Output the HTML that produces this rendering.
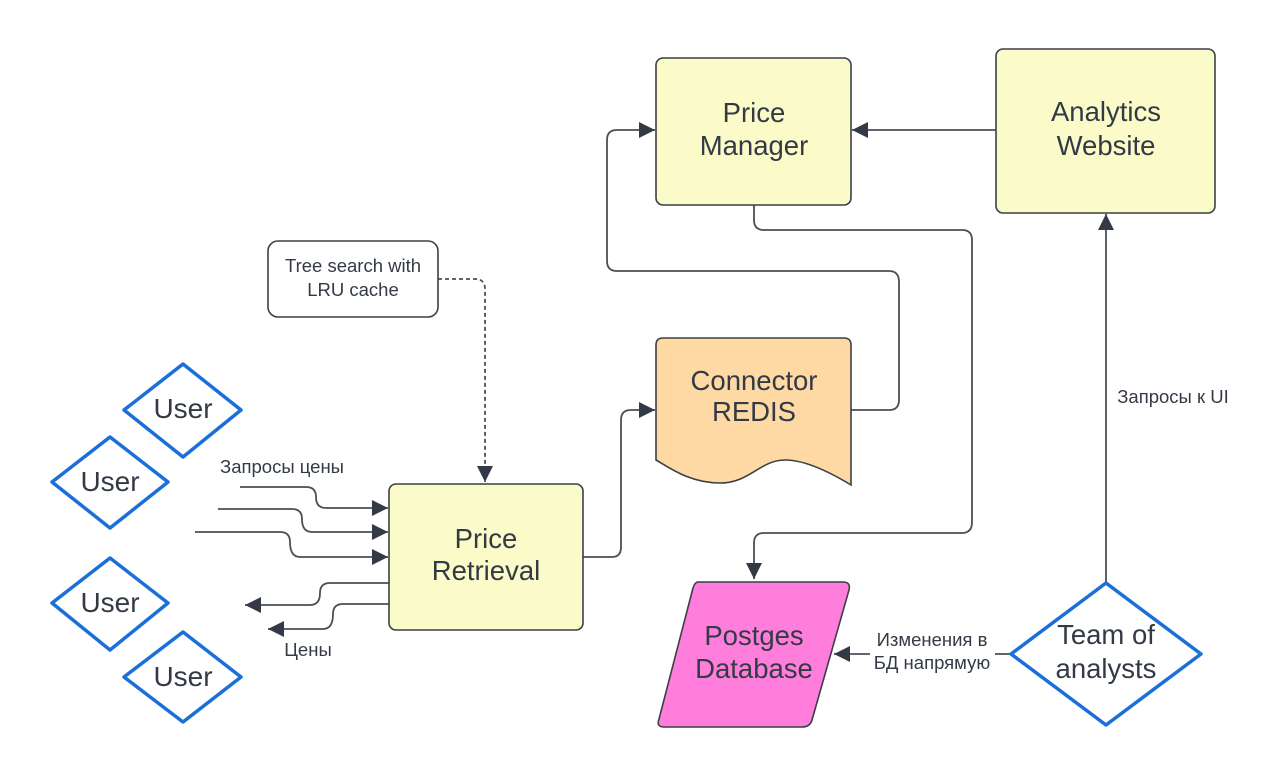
<!DOCTYPE html>
<html><head><meta charset="utf-8"><style>
html,body{margin:0;padding:0;background:#fff;}
svg{display:block}
text{font-family:"Liberation Sans",sans-serif;fill:#333a45}
</style></head><body>
<svg width="1280" height="776" viewBox="0 0 1280 776" xmlns="http://www.w3.org/2000/svg">
<defs>
<marker id="a" viewBox="0 0 10 10" refX="10" refY="5" markerWidth="16" markerHeight="16" markerUnits="userSpaceOnUse" orient="auto">
<path d="M0,0 L10,5 L0,10 z" fill="#333a45"/></marker>
</defs>
<g fill="none" stroke="#4b4f57" stroke-width="1.8">
<path d="M438,279 H475 Q485,279 485,289 V482" stroke-dasharray="4,3" marker-end="url(#a)"/>
<path d="M240,487 H306 Q316,487 316,497 Q316,508 326,508 H388" marker-end="url(#a)"/>
<path d="M218,509 H292 Q302,509 302,519 Q302,532 312,532 H388" marker-end="url(#a)"/>
<path d="M195,532 H280 Q290,532 290,542 Q290,557 300,557 H388" marker-end="url(#a)"/>
<path d="M389,583 H330 Q320,583 320,593 Q320,605 310,605 H245" marker-end="url(#a)"/>
<path d="M389,604 H343 Q333,604 333,614 Q333,629 323,629 H268" marker-end="url(#a)"/>
<path d="M583,557 H612 Q621,557 621,547 V420 Q621,410 631,410 H655" marker-end="url(#a)"/>
<path d="M851,410 H889 Q899,410 899,400 V282 Q899,271 889,271 H617 Q607,271 607,261 V140 Q607,130 617,130 H655" marker-end="url(#a)"/>
<path d="M754,205 V220 Q754,230 764,230 H962 Q972,230 972,240 V522 Q972,533 962,533 H764 Q754,533 754,543 V579" marker-end="url(#a)"/>
<path d="M996,130 H852" marker-end="url(#a)"/>
<path d="M1106,583 V214" marker-end="url(#a)"/>
<path d="M1011,654 H834" marker-end="url(#a)"/>
</g>
<rect x="870" y="626" width="125" height="50" fill="#fff"/>
<g stroke="#3b3f46" stroke-width="1.6">
<rect x="656" y="58" width="195" height="147" rx="7" fill="#fafbc8"/>
<rect x="996" y="49" width="219" height="164" rx="7" fill="#fafbc8"/>
<rect x="389" y="484" width="194" height="146" rx="7" fill="#fafbc8"/>
<rect x="268" y="241" width="170" height="76" rx="10" fill="#fff"/>
<path d="M663,338 H844 Q851,338 851,345 V485 Q810,460 785,460 C760,460 750,483 720,483 C690,483 670,468 656,460 V345 Q656,338 663,338 Z" fill="#fed9a3"/>
<path d="M698,582 H843 Q851,582 849,590 L812,720 Q810,727 802,727 H664 Q656,727 659,719 L693,588 Q695,582 698,582 Z" fill="#ff7edb"/>
</g>
<g fill="#fff" stroke="#1a6fd8" stroke-width="3.5" stroke-linejoin="round">
<path d="M183,364 L241,410 L183,457 L124,410 Z"/>
<path d="M110,437 L168,482 L110,528 L52,482 Z"/>
<path d="M110,558 L168,603 L110,650 L52,603 Z"/>
<path d="M183,632 L241,677 L183,722 L124,677 Z"/>
<path d="M1106,583 L1201,654 L1106,725 L1011,654 Z"/>
</g>
<g font-size="27.5" text-anchor="middle">
<text x="754" y="122">Price</text><text x="754" y="155">Manager</text>
<text x="1106" y="121">Analytics</text><text x="1106" y="155">Website</text>
<text x="486" y="548">Price</text><text x="486" y="580">Retrieval</text>
<text x="754" y="390">Connector</text><text x="754" y="421">REDIS</text>
<text x="754" y="645">Postges</text><text x="754" y="678">Database</text>
<text x="1106" y="644">Team of</text><text x="1106" y="678">analysts</text>
</g>
<g font-size="28" text-anchor="middle">
<text x="183" y="418">User</text><text x="110" y="491">User</text>
<text x="110" y="612">User</text><text x="183" y="686">User</text>
</g>
<g font-size="18.5" text-anchor="middle">
<text x="353" y="272">Tree search with</text><text x="353" y="296">LRU cache</text>
<text x="932" y="646">Изменения в</text><text x="932" y="669">БД напрямую</text>
<text x="1173" y="403">Запросы к UI</text>
<text x="282" y="473">Запросы цены</text>
<text x="308" y="656">Цены</text>
</g>
</svg>
</body></html>
